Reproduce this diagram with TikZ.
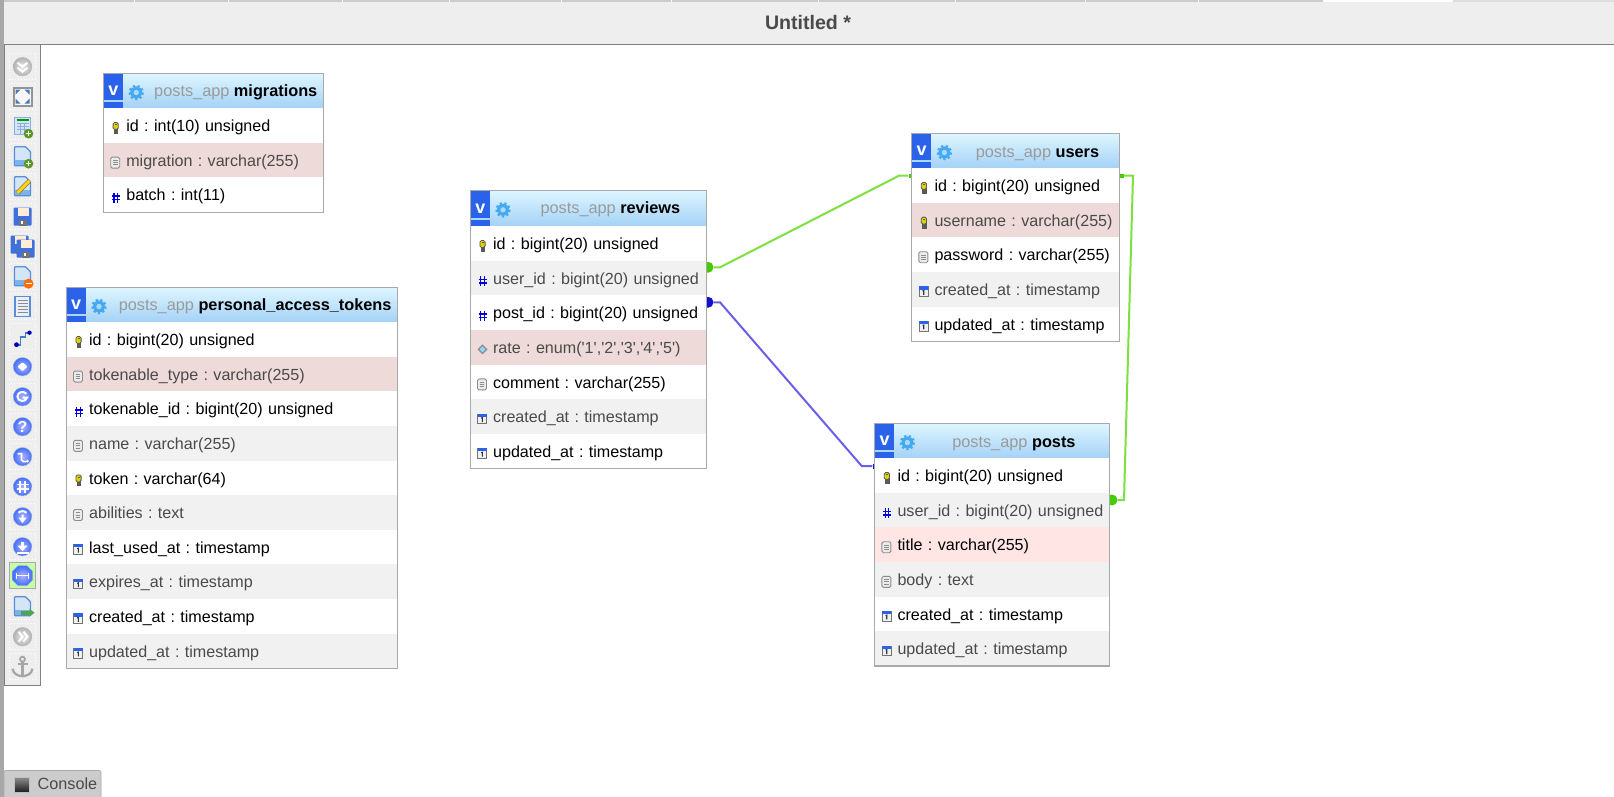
\documentclass[tikz,border=0pt]{standalone}
\usepackage{fontspec}
\newfontfamily\uifont{Liberation Sans}

\definecolor{barGrey}{HTML}{EEEEEE}
\definecolor{lineGrey}{HTML}{808080}
\definecolor{stripGrey}{HTML}{A8A8A8}
\definecolor{frameGrey}{HTML}{A9A9A9}
\definecolor{rowGrey}{HTML}{F1F1F1}
\definecolor{rowPink}{HTML}{EEDAD8}
\definecolor{rowLight}{HTML}{FFE6E4}
\definecolor{textGrey}{HTML}{4A4A4A}
\definecolor{dbGrey}{HTML}{9A9A9A}
\definecolor{headTop}{HTML}{DDF5FF}
\definecolor{headMid}{HTML}{ABD8F9}
\definecolor{headLow}{HTML}{A4D2F7}
\definecolor{vBlue}{HTML}{2A62EA}
\definecolor{gearBlue}{HTML}{45A9F2}
\definecolor{relGreen}{HTML}{7FE03F}
\definecolor{dotGreen}{HTML}{44CC00}
\definecolor{relBlue}{HTML}{6A60E8}
\definecolor{dotBlue}{HTML}{1212CC}
\definecolor{pageEdge}{HTML}{5A8CD8}
\definecolor{pageFill}{HTML}{D5E5F8}
\definecolor{pageBand}{HTML}{7AB4EC}
\definecolor{addGreen}{HTML}{5A9A28}
\definecolor{fitBlue}{HTML}{4A78C0}
\definecolor{floppyBlue}{HTML}{3F70DC}

\tikzset{
  field/.style={anchor=north west, minimum height=34.6, inner sep=0, text width=#1, align=left,
    text height=12.5, text depth=0, font=\uifont\fontsize{16.1}{18}\selectfont,
    execute at begin node={\frenchspacing\hspace*{22.6pt}}},
  whiterow/.style={field=#1, fill=white, text=black},
  greyrow/.style={field=#1, fill=rowGrey, text=textGrey},
  pinkrow/.style={field=#1, fill=rowPink, text=textGrey},
  lightrow/.style={field=#1, fill=rowLight, text=black},
  keyrow/.style={path picture={\pic at ([shift={(12,2.5)}]path picture bounding box.west) {keyicon};}},
  docrow/.style={path picture={\pic at ([shift={(11.5,2.5)}]path picture bounding box.west) {docicon};}},
  hashrow/.style={path picture={\pic at ([shift={(12,3)}]path picture bounding box.west) {hashicon};}},
  daterow/.style={path picture={\pic at ([shift={(11.5,2)}]path picture bounding box.west) {dateicon};}},
  enumrow/.style={path picture={\pic at ([shift={(12,2)}]path picture bounding box.west) {enumicon};}},
  tablehead/.style={anchor=north west, minimum width=#1, minimum height=34.3, inner sep=0,
    top color=headTop, middle color=headMid, bottom color=headLow,
    path picture={\pic at ([shift={(32.5,1.5)}]path picture bounding box.west) {gearicon};}},
  headname/.style={anchor=base east, inner sep=0, font=\uifont\frenchspacing\fontsize{16.3}{18}\selectfont},
  vtoggle/.style={anchor=west, minimum width=19.5, minimum height=34.3, inner sep=0, text=white,
    font=\uifont\bfseries\fontsize{18}{18}\selectfont,
    path picture={\fill[vBlue] (path picture bounding box.north west) rectangle (path picture bounding box.south east);
      \fill[headMid] ([yshift=6]path picture bounding box.south west) rectangle ([yshift=8]path picture bounding box.south east);}},
  tableframe/.style={draw=frameGrey, line width=1.1},
  greenrel/.style={draw=relGreen, line width=2},
  bluerel/.style={draw=relBlue, line width=2},
  greendot/.style={circle, fill=dotGreen, minimum size=11, inner sep=0},
  bluedot/.style={circle, fill=dotBlue, minimum size=11, inner sep=0},
  greentick/.style={fill=dotGreen, minimum width=4, minimum height=4, inner sep=0},
  bluetick/.style={fill=dotBlue, minimum width=3, minimum height=5, inner sep=0},
  toolbtn/.style={minimum size=26, inner sep=0, draw=white, line width=.8, dotted},
  tooldown/.style={minimum size=26, inner sep=0, draw=frameGrey, line width=.8, fill=green!55!lime!35},
  keyicon/.pic={
    \fill[black!65] (-1.8,0) rectangle (2.6,6);
    \draw[fill=yellow!70!olive, draw=black!65, line width=.8, rounded corners=1.5] (-2.6,-5.5) rectangle (2.6,1.5);
    \fill[black!65] (-1,-3.6) rectangle (1,-2.6);
  },
  docicon/.pic={
    \draw[fill=black!8, draw=black!45, line width=.9, rounded corners=1.5] (-4.5,-5.5) rectangle (4.5,5.5);
    \draw[black!45, line width=.7] (-2.3,-2.2) -- (2.3,-2.2) (-2.3,0) -- (2.3,0) (-2.3,2.2) -- (2.3,2.2);
  },
  hashicon/.pic={
    \draw[blue!85!black, line width=1.2] (-1.8,-5) -- (-1.8,5) (1.8,-5) -- (1.8,5) (-4,-1.8) -- (4,-1.8) (-4,1.8) -- (4,1.8);
  },
  dateicon/.pic={
    \draw[fill=black!6, draw=black!55, line width=.8] (-4.5,-4.5) rectangle (4.5,5);
    \fill[vBlue] (-4.5,-5) rectangle (4.5,-1.8);
    \draw[black!80, line width=1.1] (-.8,-.4) -- (.3,-.8) -- (.3,3.5);
  },
  enumicon/.pic={
    \fill[black!45] (-5,0) -- (0,-5) -- (5,0) -- (0,5) -- cycle;
    \fill[cyan!45!white] (-3,0) -- (0,-3) -- (3,0) -- (0,3) -- cycle;
  },
  gearicon/.pic={
    \draw[gearBlue, line width=2.2, dash pattern=on 2.2 off 2.4] (0,0) circle[radius=6.6];
    \draw[gearBlue, line width=3.4] (0,0) circle[radius=4.4];
    \fill[headMid] (0,0) circle[radius=2.6];
  },
  bluedisc/.pic={
    \shade[inner color=blue!30!white, outer color=blue!75!cyan!75!white, draw=blue!20!black!25] (0,0) circle[radius=9.3];
  },
  greydisc/.pic={
    \shade[inner color=black!8, outer color=black!30, draw=black!28] (0,0) circle[radius=9.3];
  },
  pageblank/.pic={
    \draw[fill=pageFill, draw=pageEdge, line width=1.3, rounded corners=.8] (-8,-10) -- (3,-10) -- (8,-5) -- (8,9) -- (-8,9) -- cycle;
    \fill[pageBand] (-7.3,3) rectangle (7.3,8.3);
  },
  greendisc/.pic={
    \fill[addGreen] (0,0) circle[radius=4.8];
    \draw[white, line width=1.2] (-2.6,0) -- (2.6,0) (0,-2.6) -- (0,2.6);
  },
  floppyicon/.pic={
    \fill[floppyBlue, rounded corners=1] (-9,-9) rectangle (9,9);
    \fill[orange!15!white] (-5,-9) rectangle (6,-1);
    \fill[black!55] (-4,3) rectangle (4,9);
    \fill[white] (-2,4.5) rectangle (0,7.5);
  },
  chevdown/.pic={
    \pic {greydisc};
    \draw[white, line width=2] (-5,-4) -- (0,0) -- (5,-4) (-5,1) -- (0,5) -- (5,1);
  },
  chevright/.pic={
    \pic {greydisc};
    \draw[white, line width=2] (-4,-5) -- (0,0) -- (-4,5) (1,-5) -- (5,0) -- (1,5);
  },
  fiticon/.pic={
    \draw[fill=black!3, draw=black!42, line width=2] (-9,-9) rectangle (9,9);
    \fill[fitBlue] (-7,-7) -- (-2,-7) -- (-7,-2) -- cycle (7,-7) -- (2,-7) -- (7,-2) -- cycle
      (-7,7) -- (-2,7) -- (-7,2) -- cycle (7,7) -- (2,7) -- (7,2) -- cycle;
  },
  tableadd/.pic={
    \draw[fill=pageFill, draw=pageEdge!70, line width=1.2] (-8,-9) rectangle (8,8);
    \draw[green!60!black, line width=1.5] (-6,-6.5) -- (6,-6.5);
    \draw[pageEdge!70, line width=.8] (-6,-3) -- (6,-3) (-6,0) -- (6,0) (-6,3) -- (6,3) (-2,-4) -- (-2,7) (2,-4) -- (2,7);
    \pic at (6,7) {greendisc};
  },
  pageadd/.pic={
    \pic {pageblank};
    \pic at (6,7) {greendisc};
  },
  pageedit/.pic={
    \pic {pageblank};
    \draw[orange!40!black!70, line width=4.4] (-5,6) -- (7,-6);
    \draw[yellow!75!orange, line width=3] (-5,6) -- (7,-6);
  },
  pagedel/.pic={
    \pic {pageblank};
    \fill[orange!85!red] (6,7) circle[radius=5];
    \draw[white, line width=1.5] (3,7) -- (9,7);
  },
  pagelist/.pic={
    \draw[fill=pageFill!60!white, draw=pageEdge, line width=1.5] (-7.5,-10) rectangle (7.5,10);
    \draw[black!45, line width=1] (-5,-6.5) -- (5,-6.5) (-5,-3.5) -- (5,-3.5) (-5,-.5) -- (5,-.5) (-5,2.5) -- (5,2.5) (-5,5.5) -- (5,5.5);
  },
  pageexport/.pic={
    \pic {pageblank};
    \draw[green!50!black!70, line width=3.6] (-2,6) -- (7,6);
    \fill[green!50!black!70] (7,2) -- (12,6) -- (7,10) -- cycle;
  },
  relicon/.pic={
    \draw[cyan!45!blue!80, line width=1.8] (-6,8) -- (-2,8) -- (-2,0) -- (3,0) -- (3,-4) -- (6,-4);
    \fill[blue!70!black] (-6,8) circle[radius=2.4];
    \fill[blue!70!black] (7,-4) circle[radius=2.2];
  },
  diamondicon/.pic={
    \pic {bluedisc};
    \fill[white, rounded corners=1] (-5,0) -- (0,-4.5) -- (5,0) -- (0,4.5) -- cycle;
  },
  refreshicon/.pic={
    \pic {bluedisc};
    \draw[white, line width=2] (4,-3) .. controls (1,-6) and (-5,-5) .. (-5,0) .. controls (-5,5) and (3,6) .. (4.5,1) -- (0,1);
  },
  helpicon/.pic={
    \pic {bluedisc};
    \node[text=white, inner sep=0, font=\uifont\bfseries\fontsize{16}{16}\selectfont] (helpmark) at (0,.5) {?};
  },
  splineicon/.pic={
    \pic {bluedisc};
    \draw[white, line width=1.6] (-5,-3) -- (-1,-3) -- (-1,3) .. controls (-1,5) and (2,5) .. (4,5);
    \fill[white] (5,4.5) circle[radius=1.5];
  },
  gridicon/.pic={
    \pic {bluedisc};
    \draw[white, line width=1.3] (-2.4,-6) -- (-2.4,6) (2.4,-6) -- (2.4,6) (-6,-2.4) -- (6,-2.4) (-6,2.4) -- (6,2.4);
  },
  downicon/.pic={
    \pic {bluedisc};
    \draw[white, line width=2] (-4,-4) .. controls (-2,-6) and (2,-6) .. (4,-4) (0,-2) -- (0,4);
    \fill[white] (-4,1) -- (4,1) -- (0,6.5) -- cycle;
  },
  saveicon/.pic={
    \pic {bluedisc};
    \draw[white, line width=2.4] (0,-5) -- (0,1);
    \fill[white] (-5,-1) -- (5,-1) -- (0,4.5) -- cycle;
    \draw[white, line width=2] (-6,6) -- (6,6);
  },
  octaicon/.pic={
    \shade[inner color=blue!30!white, outer color=blue!75!cyan!75!white, draw=blue!40!black!30]
      (-4.5,-10) -- (4.5,-10) -- (10,-4.5) -- (10,4.5) -- (4.5,10) -- (-4.5,10) -- (-10,4.5) -- (-10,-4.5) -- cycle;
    \draw[white, line width=1.4] (-6,0) -- (6,0) (-6,-3) -- (-6,3) (6,-3) -- (6,3);
  },
  anchoricon/.pic={
    \draw[black!35, line width=2.2] (0,-5) -- (0,9) (-5,-3) -- (5,-3);
    \draw[black!35, line width=1.8] (0,-7.5) circle[radius=2.5];
    \draw[black!35, line width=2.2] (-10,2) .. controls (-9,8) and (-4,9) .. (0,9.5) .. controls (4,9) and (9,8) .. (10,2);
  }
}

\begin{document}
\begin{tikzpicture}[x=1pt, y=-1pt]
\useasboundingbox (0,0) rectangle (1614,797);
\fill[white] (0,0) rectangle (1614,797);

\fill[barGrey] (4,2) rectangle (1614,44.5);
\fill[black!20] (4,0) rectangle (1323,2);
\fill[black!13] (1453,0) rectangle (1614,2);
\draw[white, line width=.8] (134,0) -- (134,2) (228,0) -- (228,2) (342,0) -- (342,2) (449,0) -- (449,2) (561,0) -- (561,2)
  (671,0) -- (671,2) (818,0) -- (818,2) (955,0) -- (955,2) (1085,0) -- (1085,2) (1198,0) -- (1198,2);
\draw[lineGrey, line width=1] (4,44.5) -- (1614,44.5);
\fill[stripGrey] (0,0) rectangle (4,797);
\node[text=textGrey, inner sep=0, font=\uifont\bfseries\fontsize{19.6}{20}\selectfont] (title) at (808,22.5) {Untitled *};

\draw[fill=barGrey, draw=lineGrey, line width=1] (4.5,45) rectangle (40.5,685);
\node[toolbtn] (tb1) at (22.5,66.7) {}; \pic at (tb1) {chevdown};
\node[toolbtn] (tb2) at (22.5,96.7) {}; \pic at (tb2) {fiticon};
\node[toolbtn] (tb3) at (22.5,126.7) {}; \pic at (tb3) {tableadd};
\node[toolbtn] (tb4) at (22.5,156.7) {}; \pic at (tb4) {pageadd};
\node[toolbtn] (tb5) at (22.5,186.7) {}; \pic at (tb5) {pageedit};
\node[toolbtn] (tb6) at (22.5,216.7) {}; \pic at (tb6) {floppyicon};
\node[toolbtn] (tb7) at (22.5,246.7) {}; \pic at (19.5,244.7) {floppyicon}; \pic at (25.5,248.7) {floppyicon};
\node[toolbtn] (tb8) at (22.5,276.7) {}; \pic at (tb8) {pagedel};
\node[toolbtn] (tb9) at (22.5,306.7) {}; \pic at (tb9) {pagelist};
\node[toolbtn] (tb10) at (22.5,336.7) {}; \pic at (tb10) {relicon};
\node[toolbtn] (tb11) at (22.5,366.7) {}; \pic at (tb11) {diamondicon};
\node[toolbtn] (tb12) at (22.5,396.7) {}; \pic at (tb12) {refreshicon};
\node[toolbtn] (tb13) at (22.5,426.7) {}; \pic at (tb13) {helpicon};
\node[toolbtn] (tb14) at (22.5,456.7) {}; \pic at (tb14) {splineicon};
\node[toolbtn] (tb15) at (22.5,486.7) {}; \pic at (tb15) {gridicon};
\node[toolbtn] (tb16) at (22.5,516.7) {}; \pic at (tb16) {downicon};
\node[toolbtn] (tb17) at (22.5,546.7) {}; \pic at (tb17) {saveicon};
\node[tooldown] (tb18) at (22.5,575.7) {}; \pic at (tb18) {octaicon};
\node[toolbtn] (tb19) at (22.5,606.7) {}; \pic at (tb19) {pageexport};
\node[toolbtn] (tb20) at (22.5,636.7) {}; \pic at (tb20) {chevright};
\node[toolbtn] (tb21) at (22.5,666.7) {}; \pic at (tb21) {anchoricon};

\draw[fill=black!20, draw=frameGrey, line width=.8, rounded corners=2] (4,797.5) -- (4,770.5) -- (101,770.5) -- (101,797.5);
\node[minimum size=15, inner sep=0, top color=black!45, bottom color=black!90, draw=black!25, line width=1.4] (consoleicon) at (22,785) {};
\node[anchor=west, inner sep=0, text=textGrey, font=\uifont\fontsize{16.2}{18}\selectfont] (console) at (37.5,784) {Console};

\node[greendot] (dotuser) at (708,267.3) {};
\node[greentick] (tickusers) at (910.5,175.7) {};
\coordinate (bendua) at (720,267.3);
\coordinate (bendub) at (899,175.7);
\draw[greenrel] (dotuser) -- (bendua) -- (bendub) -- (tickusers);

\node[bluedot] (dotpost) at (708,302.3) {};
\node[bluetick] (tickposts) at (874,466) {};
\coordinate (bendpa) at (720,302.3);
\coordinate (bendpb) at (861.7,466);
\draw[bluerel] (dotpost) -- (bendpa) -- (bendpb) -- (tickposts);

\node[greentick] (tickid) at (1121.5,175.7) {};
\node[greendot] (dotauthor) at (1112,500) {};
\coordinate (bendaa) at (1133,175.7);
\coordinate (bendab) at (1124,500);
\draw[greenrel] (tickid) -- (bendaa) -- (bendab) -- (dotauthor);

\node[tablehead=220] (migh) at (103.5,73.7) {};
\node[vtoggle] (migv) at (migh.west) {v};
\node[headname] (migt) at (317.5,97) {\textcolor{dbGrey}{posts\_app} \textbf{migrations}};
\node[whiterow=220, keyrow] (mig1) at (103.5,108) {id : int(10) unsigned};
\node[pinkrow=220, docrow] (mig2) at (103.5,142.6) {migration : varchar(255)};
\node[whiterow=220, hashrow] (mig3) at (103.5,177.2) {batch : int(11)};
\draw[tableframe] (migh.north west) rectangle (mig3.south east);

\node[tablehead=331] (tokh) at (66.3,287.7) {};
\node[vtoggle] (tokv) at (tokh.west) {v};
\node[headname] (tokt) at (391.7,310.5) {\textcolor{dbGrey}{posts\_app} \textbf{personal\_access\_tokens}};
\node[whiterow=331, keyrow] (tok1) at (66.3,322) {id : bigint(20) unsigned};
\node[pinkrow=331, docrow] (tok2) at (66.3,356.6) {tokenable\_type : varchar(255)};
\node[whiterow=331, hashrow] (tok3) at (66.3,391.2) {tokenable\_id : bigint(20) unsigned};
\node[greyrow=331, docrow] (tok4) at (66.3,425.8) {name : varchar(255)};
\node[whiterow=331, keyrow] (tok5) at (66.3,460.4) {token : varchar(64)};
\node[greyrow=331, docrow] (tok6) at (66.3,495) {abilities : text};
\node[whiterow=331, daterow] (tok7) at (66.3,529.6) {last\_used\_at : timestamp};
\node[greyrow=331, daterow] (tok8) at (66.3,564.2) {expires\_at : timestamp};
\node[whiterow=331, daterow] (tok9) at (66.3,598.8) {created\_at : timestamp};
\node[greyrow=331, daterow] (tok10) at (66.3,633.4) {updated\_at : timestamp};
\draw[tableframe] (tokh.north west) rectangle (tok10.south east);

\node[tablehead=235.4, minimum height=35.7] (revh) at (470.3,190.3) {};
\node[vtoggle, minimum height=35.7] (revv) at (revh.west) {v};
\node[headname] (revt) at (680.3,213.7) {\textcolor{dbGrey}{posts\_app} \textbf{reviews}};
\node[whiterow=235.4, keyrow] (rev1) at (470.3,226) {id : bigint(20) unsigned};
\node[greyrow=235.4, hashrow] (rev2) at (470.3,260.6) {user\_id : bigint(20) unsigned};
\node[whiterow=235.4, hashrow] (rev3) at (470.3,295.2) {post\_id : bigint(20) unsigned};
\node[pinkrow=235.4, enumrow] (rev4) at (470.3,329.8) {rate : enum('1','2','3','4','5')};
\node[whiterow=235.4, docrow] (rev5) at (470.3,364.4) {comment : varchar(255)};
\node[greyrow=235.4, daterow] (rev6) at (470.3,399) {created\_at : timestamp};
\node[whiterow=235.4, daterow] (rev7) at (470.3,433.6) {updated\_at : timestamp};
\draw[tableframe] (revh.north west) rectangle (rev7.south east);

\node[tablehead=207.6] (usrh) at (911.7,133.7) {};
\node[vtoggle] (usrv) at (usrh.west) {v};
\node[headname] (usrt) at (1099.3,157.2) {\textcolor{dbGrey}{posts\_app} \textbf{users}};
\node[whiterow=207.6, keyrow] (usr1) at (911.7,168) {id : bigint(20) unsigned};
\node[pinkrow=207.6, keyrow] (usr2) at (911.7,202.6) {username : varchar(255)};
\node[whiterow=207.6, docrow] (usr3) at (911.7,237.2) {password : varchar(255)};
\node[greyrow=207.6, daterow] (usr4) at (911.7,271.8) {created\_at : timestamp};
\node[whiterow=207.6, daterow] (usr5) at (911.7,306.4) {updated\_at : timestamp};
\draw[tableframe] (usrh.north west) rectangle (usr5.south east);

\node[tablehead=234.6] (posh) at (874.7,423.7) {};
\node[vtoggle] (posv) at (posh.west) {v};
\node[headname] (post) at (1075.7,447.2) {\textcolor{dbGrey}{posts\_app} \textbf{posts}};
\node[whiterow=234.6, keyrow] (pos1) at (874.7,458) {id : bigint(20) unsigned};
\node[greyrow=234.6, hashrow] (pos2) at (874.7,492.6) {user\_id : bigint(20) unsigned};
\node[lightrow=234.6, docrow] (pos3) at (874.7,527.2) {title : varchar(255)};
\node[greyrow=234.6, docrow] (pos4) at (874.7,561.8) {body : text};
\node[whiterow=234.6, daterow] (pos5) at (874.7,596.4) {created\_at : timestamp};
\node[greyrow=234.6, daterow] (pos6) at (874.7,631) {updated\_at : timestamp};
\draw[tableframe] (posh.north west) rectangle (pos6.south east);
\end{tikzpicture}
\end{document}
